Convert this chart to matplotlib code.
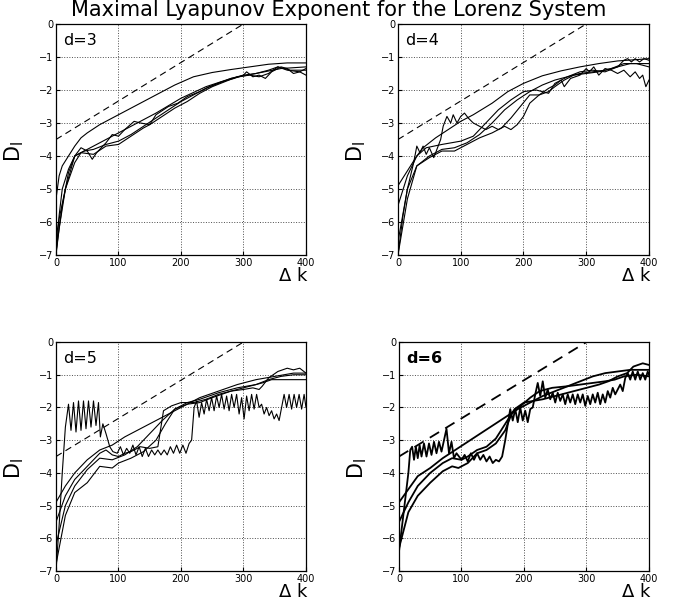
import numpy as np
import matplotlib.pyplot as plt

# reference slope line (same in every panel)
dash_x = [0, 300]
dash_y = [-3.5, 0.0]

# ---- d=3 ----
d3_x1 = [0, 5, 10, 20, 30, 40, 50, 70, 100, 130, 160, 190, 220, 250, 280, 310, 340, 370, 400]
d3_y1 = [-5.3, -4.6, -4.3, -4.0, -3.7, -3.45, -3.3, -3.05, -2.75, -2.45, -2.15, -1.85, -1.6, -1.47, -1.38, -1.3, -1.22, -1.18, -1.18]
d3_x2 = [0, 5, 10, 20, 30, 50, 80, 120, 160, 200, 240, 280, 320, 360, 400]
d3_y2 = [-7.0, -5.8, -5.0, -4.4, -4.0, -3.8, -3.5, -3.1, -2.7, -2.25, -1.9, -1.65, -1.5, -1.35, -1.3]
d3_x3 = [0, 5, 15, 30, 40, 50, 58, 65, 80, 90, 100, 110, 125, 135, 150, 160, 180, 195, 210, 230, 245, 265,
         285, 300, 305, 315, 325, 335, 345, 360, 370, 380, 390, 400]
d3_y3 = [-6.5, -5.9, -5.0, -4.0, -3.75, -3.85, -4.1, -3.9, -3.6, -3.35, -3.4, -3.2, -2.95, -3.0, -3.05, -2.75,
         -2.5, -2.4, -2.2, -2.05, -1.9, -1.75, -1.65, -1.55, -1.45, -1.6, -1.55, -1.65, -1.45, -1.3, -1.35,
         -1.5, -1.45, -1.55]
d3_x4 = [0, 10, 20, 30, 45, 60, 80, 100, 120, 140, 160, 180, 200, 220, 240, 260, 280, 300, 320, 340, 355, 375, 400]
d3_y4 = [-6.9, -5.5, -4.5, -4.0, -3.85, -3.8, -3.65, -3.55, -3.35, -3.1, -2.85, -2.6, -2.35, -2.15, -1.95,
         -1.8, -1.65, -1.55, -1.5, -1.4, -1.3, -1.4, -1.4]
d3_x5 = [0, 5, 15, 30, 40, 60, 80, 100, 120, 140, 150, 170, 190, 210, 230, 250, 270, 290, 310, 325, 340, 355, 370, 390, 400]
d3_y5 = [-7.0, -6.2, -5.0, -4.2, -3.9, -3.95, -3.7, -3.65, -3.4, -3.15, -3.05, -2.8, -2.55, -2.35, -2.1,
         -1.9, -1.75, -1.6, -1.55, -1.6, -1.5, -1.3, -1.4, -1.45, -1.35]

# ---- d=4 ----
d4_x1 = [0, 10, 20, 30, 40, 60, 80, 100, 120, 150, 175, 200, 230, 260, 290, 320, 350, 380, 400]
d4_y1 = [-4.9, -4.6, -4.3, -4.0, -3.75, -3.45, -3.2, -2.95, -2.75, -2.4, -2.05, -1.8, -1.57, -1.42, -1.3,
         -1.2, -1.12, -1.08, -1.05]
d4_x2 = [0, 8, 15, 25, 30, 35, 40, 45, 50, 57, 62, 68, 72, 78, 84, 88, 94, 100, 106, 112, 120, 130, 140,
         150, 160, 170, 180, 190, 200, 210, 225, 240, 250, 260, 265, 275, 290, 300, 305, 312, 320, 330,
         340, 350, 360, 370, 378, 385, 390, 395, 400]
d4_y2 = [-7.0, -5.8, -5.0, -4.2, -3.7, -3.9, -3.7, -3.95, -3.75, -4.05, -3.8, -3.5, -3.1, -2.8, -3.0,
         -2.75, -3.0, -2.8, -2.7, -2.85, -3.0, -3.1, -3.2, -3.1, -3.2, -3.1, -3.2, -3.05, -2.8, -2.4, -2.15,
         -1.95, -1.85, -1.7, -1.9, -1.65, -1.55, -1.35, -1.45, -1.3, -1.55, -1.35, -1.4, -1.5, -1.4, -1.6,
         -1.45, -1.65, -1.55, -1.9, -1.7]
d4_x3 = [0, 15, 30, 50, 70, 90, 110, 130, 150, 170, 190, 210, 230, 250, 270, 290, 310, 330, 350, 370, 400]
d4_y3 = [-7.0, -5.3, -4.3, -4.0, -3.8, -3.75, -3.6, -3.35, -3.0, -2.6, -2.3, -2.05, -1.85, -1.7, -1.6,
         -1.5, -1.45, -1.4, -1.3, -1.2, -1.2]
d4_x4 = [0, 15, 30, 50, 70, 90, 100, 115, 130, 150, 165, 180, 195, 210, 225, 240, 250, 265, 280, 300,
         320, 340, 360, 380, 400]
d4_y4 = [-6.6, -5.0, -4.3, -4.05, -3.85, -3.85, -3.75, -3.6, -3.45, -3.3, -3.15, -2.85, -2.5, -2.15,
         -2.15, -2.05, -1.9, -1.7, -1.55, -1.5, -1.45, -1.35, -1.2, -1.2, -1.3]
d4_x5 = [0, 15, 30, 45, 70, 100, 120, 140, 160, 180, 200, 220, 240, 250, 270, 290, 310, 330, 350, 360,
         366, 372, 378, 385, 392, 400]
d4_y5 = [-5.5, -4.6, -4.0, -3.75, -3.65, -3.55, -3.4, -3.0, -2.6, -2.3, -2.05, -2.0, -2.1, -1.8, -1.6,
         -1.45, -1.4, -1.45, -1.3, -1.1, -1.05, -1.15, -1.05, -1.15, -1.05, -1.1]

# ---- d=5 ----
d5_x1 = [0, 15, 30, 50, 70, 90, 110, 140, 170, 200, 230, 260, 290, 320, 350, 380, 400]
d5_y1 = [-4.9, -4.4, -4.0, -3.6, -3.3, -3.15, -2.9, -2.6, -2.3, -2.0, -1.7, -1.5, -1.3, -1.15, -1.05,
         -0.95, -0.95]
d5_x2 = [0, 15, 30, 50, 70, 90, 110, 130, 150, 170, 190, 210, 230, 260, 290, 320, 340, 360, 380, 400]
d5_y2 = [-6.2, -5.0, -4.4, -3.9, -3.55, -3.6, -3.45, -3.2, -2.8, -2.4, -2.05, -1.85, -1.75, -1.55,
         -1.4, -1.3, -1.15, -1.05, -1.0, -1.0]
d5_x3 = [0, 15, 30, 50, 70, 90, 100, 120, 140, 160, 175, 190, 210, 230, 250, 280, 310, 330, 345, 370, 400]
d5_y3 = [-6.8, -5.3, -4.6, -4.3, -3.8, -3.85, -3.7, -3.55, -3.35, -3.0, -2.5, -2.05, -1.9, -1.85, -1.7,
         -1.5, -1.35, -1.25, -1.15, -1.15, -1.15]
d5_x4 = [0, 15, 30, 50, 70, 80, 90, 100, 110, 120, 135, 150, 163, 172, 185, 200, 220, 240, 260, 280,
         300, 315, 325, 330, 340, 355, 370, 380, 390, 400]
d5_y4 = [-5.5, -4.7, -4.2, -3.8, -3.4, -3.3, -3.45, -3.5, -3.4, -3.35, -3.2, -3.25, -3.2, -2.1, -1.95,
         -1.85, -1.85, -1.75, -1.6, -1.5, -1.45, -1.4, -1.45, -1.35, -1.1, -0.9, -0.8, -0.85, -0.8, -0.95]
d5_x5 = [0, 5, 10, 15, 20, 24, 28, 32, 36, 40, 44, 48, 52, 56, 60, 64, 68, 71, 75, 80, 86, 91, 98, 103,
         108, 113, 118, 123, 128, 133, 138, 143, 148, 153, 158, 163, 168, 173, 178, 183, 188, 193, 198,
         203, 208, 213, 217, 221, 225, 229, 233, 237, 241, 245, 249, 253, 257, 261, 265, 269, 273, 277,
         281, 285, 289, 293, 297, 301, 305, 309, 313, 317, 321, 325, 329, 333, 337, 341, 345, 349, 353,
         357, 361, 365, 369, 373, 377, 381, 385, 389, 393, 397, 400]
d5_y5 = [-7.0, -5.6, -4.0, -2.6, -1.9, -2.7, -1.85, -2.75, -1.8, -2.7, -1.8, -2.65, -1.8, -2.6, -1.8,
         -2.55, -1.85, -2.9, -2.5, -2.8, -3.2, -3.35, -3.4, -3.2, -3.45, -3.25, -3.4, -3.15, -3.45, -3.2,
         -3.5, -3.25, -3.5, -3.3, -3.45, -3.3, -3.45, -3.3, -3.45, -3.2, -3.4, -3.15, -3.4, -3.15, -3.4,
         -3.1, -3.0, -2.0, -1.8, -2.3, -1.85, -2.2, -1.75, -2.1, -1.7, -2.1, -1.65, -2.0, -1.6, -2.05,
         -1.65, -2.1, -1.6, -2.0, -1.6, -2.2, -1.7, -2.35, -1.65, -2.1, -1.6, -2.05, -1.6, -2.0, -1.9,
         -2.2, -2.0, -2.25, -2.1, -2.35, -2.2, -2.4, -2.0, -1.6, -2.0, -1.6, -2.05, -1.6, -2.0, -1.6,
         -2.05, -1.6, -2.0]

# ---- d=6 ----
d6_x1 = [0, 15, 30, 50, 70, 90, 110, 130, 150, 170, 190, 210, 230, 250, 270, 290, 310, 330, 350, 370, 400]
d6_y1 = [-4.9, -4.5, -4.1, -3.85, -3.55, -3.3, -3.05, -2.8, -2.55, -2.3, -2.05, -1.85, -1.65, -1.5,
         -1.35, -1.2, -1.05, -0.95, -0.9, -0.85, -0.85]
d6_x2 = [0, 15, 30, 50, 70, 85, 100, 110, 125, 140, 155, 170, 185, 200, 215, 230, 250, 270, 290, 300,
         320, 335, 350, 365, 375, 390, 400]
d6_y2 = [-5.5, -4.9, -4.4, -4.0, -3.7, -3.55, -3.6, -3.5, -3.3, -3.2, -2.95, -2.5, -2.05, -1.85, -1.8,
         -1.75, -1.65, -1.55, -1.45, -1.4, -1.3, -1.2, -1.05, -0.95, -0.75, -0.65, -0.7]
d6_x3 = [0, 15, 30, 50, 70, 85, 95, 110, 125, 140, 155, 170, 180, 195, 210, 225, 245, 270, 290, 310,
         330, 345, 360, 380, 400]
d6_y3 = [-6.3, -5.2, -4.7, -4.3, -3.95, -3.8, -3.85, -3.7, -3.4, -3.3, -3.1, -2.7, -2.2, -1.95, -1.7,
         -1.5, -1.4, -1.35, -1.3, -1.25, -1.2, -1.15, -1.05, -1.0, -1.05]
d6_x4 = [0, 5, 10, 15, 18, 21, 24, 27, 30, 33, 36, 40, 44, 48, 52, 56, 60, 64, 68, 72, 76, 80, 84, 88,
         92, 96, 100, 105, 110, 115, 120, 125, 130, 135, 140, 145, 150, 155, 160, 165, 170, 175, 178,
         182, 186, 190, 194, 198, 202, 206, 210, 214, 218, 222, 226, 230, 234, 238, 242, 246, 250, 254,
         258, 262, 266, 270, 274, 278, 282, 286, 290, 294, 298, 302, 306, 310, 314, 318, 322, 326, 330,
         334, 338, 342, 346, 350, 354, 358, 362, 366, 370, 374, 378, 382, 386, 390, 394, 398, 400]
d6_y4 = [-6.4, -5.6, -4.8, -4.0, -3.3, -3.2, -3.6, -3.2, -3.55, -3.15, -3.5, -3.1, -3.5, -3.1, -3.45,
         -3.05, -3.4, -3.05, -3.35, -3.0, -2.65, -3.4, -3.05, -3.55, -3.4, -3.5, -3.6, -3.45, -3.65, -3.4,
         -3.6, -3.4, -3.6, -3.45, -3.65, -3.5, -3.7, -3.6, -3.65, -3.5, -3.0, -2.4, -2.05, -2.4, -2.05,
         -2.45, -2.0, -2.4, -2.1, -2.45, -2.05, -2.0, -1.6, -1.25, -1.65, -1.2, -1.7, -1.45, -1.75, -1.55,
         -1.85, -1.55, -1.8, -1.6, -1.9, -1.6, -1.85, -1.6, -1.9, -1.6, -1.85, -1.6, -1.95, -1.65, -1.9,
         -1.6, -1.85, -1.55, -1.9, -1.6, -1.85, -1.5, -1.7, -1.4, -1.6, -1.45, -1.3, -1.5, -1.1, -0.95,
         -1.15, -0.9, -1.15, -0.9, -1.15, -0.95, -1.15, -0.9, -1.0]

panels = [
    ('d=3', [(d3_x1, d3_y1), (d3_x2, d3_y2), (d3_x3, d3_y3), (d3_x4, d3_y4), (d3_x5, d3_y5)], 0.8, 'normal'),
    ('d=4', [(d4_x1, d4_y1), (d4_x2, d4_y2), (d4_x3, d4_y3), (d4_x4, d4_y4), (d4_x5, d4_y5)], 0.8, 'normal'),
    ('d=5', [(d5_x1, d5_y1), (d5_x2, d5_y2), (d5_x3, d5_y3), (d5_x4, d5_y4), (d5_x5, d5_y5)], 0.8, 'normal'),
    ('d=6', [(d6_x1, d6_y1), (d6_x2, d6_y2), (d6_x3, d6_y3), (d6_x4, d6_y4)], 1.3, 'bold'),
]

positions = [
    [0.0826, 0.5778, 0.3687, 0.3825],
    [0.5870, 0.5778, 0.3702, 0.3825],
    [0.0826, 0.0546, 0.3687, 0.3791],
    [0.5885, 0.0546, 0.3687, 0.3791],
]

plt.rcParams['font.family'] = ['DejaVu Sans']
fig = plt.figure(figsize=(6.78, 6.04), dpi=100)

for pos, (name, curves, lw, weight) in zip(positions, panels):
    ax = fig.add_axes(pos)
    for x, y in curves:
        ax.plot(x, y, color='black', lw=lw)
    ax.plot(dash_x, dash_y, color='black', lw=lw, dashes=(6, 4))
    ax.set_xlim(0, 400)
    ax.set_ylim(-7, 0)
    ax.set_xticks([0, 100, 200, 300, 400])
    ax.set_yticks(range(-7, 1))
    ax.grid(True, linestyle=':', color='0.3', lw=0.7)
    ax.tick_params(direction='in', labelsize=7, length=3, pad=2)
    for s in ax.spines.values():
        s.set_linewidth(0.9)
    ax.text(0.03, 0.96, name, transform=ax.transAxes, fontsize=11.5, fontweight=weight,
            ha='left', va='top')
    ax.text(0.95, -0.09, r'$\Delta$ k', transform=ax.transAxes, fontsize=13,
            ha='center', va='center')
    ax.set_ylabel(r'D$_{\mathregular{l}}$', fontsize=15)
    ax.yaxis.set_label_coords(-0.12, 0.45)

fig.text(0.5, 1 - 16 / 604, 'Maximal Lyapunov Exponent for the Lorenz System',
         ha='center', va='baseline', fontsize=15)

fig.savefig('out.png', dpi=100)
